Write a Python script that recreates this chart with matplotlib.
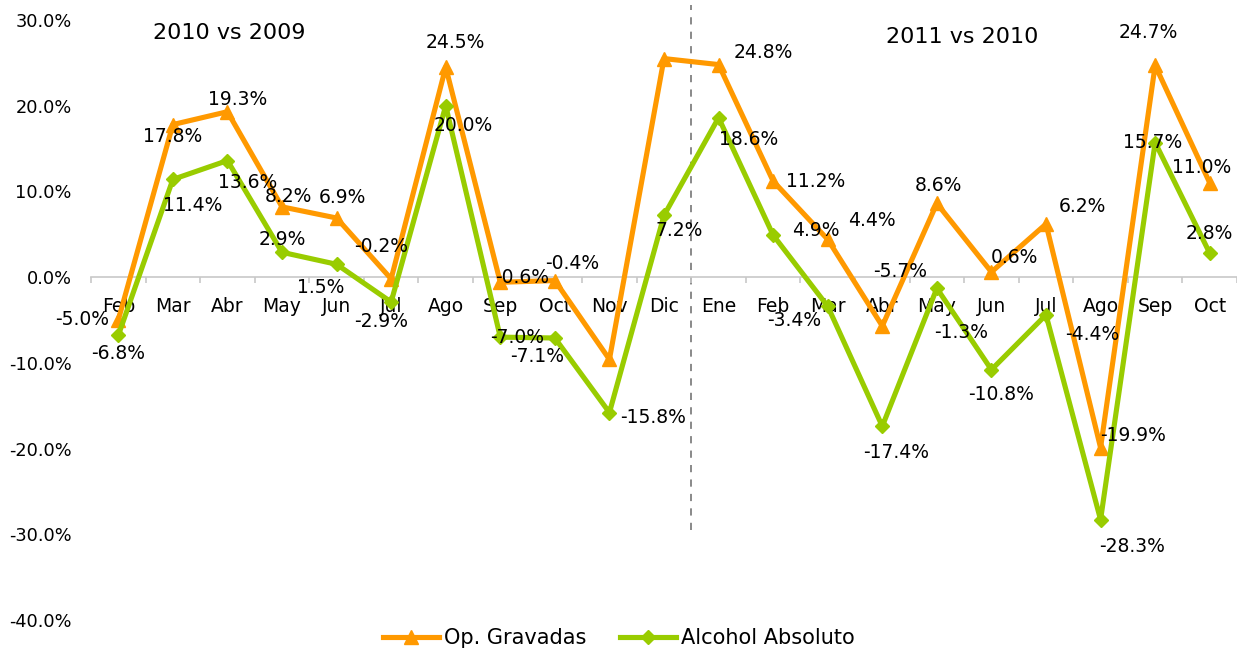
import numpy as np
import matplotlib.pyplot as plt
from matplotlib.ticker import FuncFormatter

# datos (variacion % interanual)
meses = ['Feb', 'Mar', 'Abr', 'May', 'Jun', 'Jul', 'Ago', 'Sep', 'Oct', 'Nov', 'Dic',
         'Ene', 'Feb', 'Mar', 'Abr', 'May', 'Jun', 'Jul', 'Ago', 'Sep', 'Oct']
op_gravadas = [-5.0, 17.8, 19.3, 8.2, 6.9, -0.2, 24.5, -0.6, -0.4, -9.6, 25.5,
               24.8, 11.2, 4.4, -5.7, 8.6, 0.6, 6.2, -19.9, 24.7, 11.0]
alcohol_abs = [-6.8, 11.4, 13.6, 2.9, 1.5, -2.9, 20.0, -7.0, -7.1, -15.8, 7.2,
               18.6, 4.9, -3.4, -17.4, -1.3, -10.8, -4.4, -28.3, 15.7, 2.8]
# Nov y Dic 2010 de Op. Gravadas no llevan etiqueta
sin_etiqueta_op = [9, 10]
periodos = ['2010 vs 2009', '2011 vs 2010']

# desplazamiento de etiquetas (pixeles, y hacia abajo)
off_op = [(-36, 0), (0, 12), (10, -12), (6, -10), (6, -20), (-10, -32), (10, -25),
          (22, -5), (17, -17), (0, 0), (0, 0), (45, -12), (42, 0), (44, -19),
          (18, -54), (2, -18), (23, -14), (36, -17), (32, -12), (-7, -33), (-8, -15)]
off_al = [(0, 18), (20, 26), (20, 22), (0, -13), (-16, 23), (-10, 20), (18, 20),
          (17, 0), (-18, 19), (44, 5), (15, 15), (30, 22), (43, -5), (-34, 14),
          (14, 26), (24, 44), (10, 25), (46, 20), (31, 27), (-3, 0), (0, -20)]

naranja = '#FF9900'
verde = '#99CC00'

fig = plt.figure(figsize=(12.37, 6.52), dpi=100)
ax = fig.add_axes([91/1237, 1-620/652, 1-91/1237, 600/652])

x = np.arange(len(meses))
l1, = ax.plot(x, op_gravadas, color=naranja, lw=3.7, marker='^', ms=10.5, zorder=3,
              label='Op. Gravadas')
l2, = ax.plot(x, alcohol_abs, color=verde, lw=3.7, marker='D', ms=7.5, zorder=3,
              label='Alcohol Absoluto')

for i, v in enumerate(op_gravadas):
    if i in sin_etiqueta_op:
        continue
    dx, dy = off_op[i]
    ax.annotate(f'{v:.1f}%', (i, v), xytext=(dx, -dy), textcoords='offset pixels',
                ha='center', va='center', fontsize=13.5, zorder=5)
for i, v in enumerate(alcohol_abs):
    dx, dy = off_al[i]
    ax.annotate(f'{v:.1f}%', (i, v), xytext=(dx, -dy), textcoords='offset pixels',
                ha='center', va='center', fontsize=13.5, zorder=5)

ax.set_xlim(-0.5, len(meses) - 0.5)
ax.set_ylim(-40, 30)
ax.set_yticks(np.arange(-40, 31, 10))
ax.yaxis.set_major_formatter(FuncFormatter(lambda v, p: f'{v:.1f}%'))
ax.tick_params(axis='y', length=0, pad=14, labelsize=12.8)

for s in ['top', 'right', 'left']:
    ax.spines[s].set_visible(False)
ax.spines['bottom'].set_position(('data', 0))
ax.spines['bottom'].set_color('#c8c8c8')
ax.spines['bottom'].set_linewidth(1.2)
ax.set_xticks(x)
ax.set_xticklabels(meses)
ax.set_xticks(np.arange(-0.5, len(meses), 1), minor=True)
ax.tick_params(axis='x', which='major', length=0, pad=14, labelsize=13.5)
ax.tick_params(axis='x', which='minor', length=4.5, color='#c8c8c8', width=1.2)

# separacion entre periodos
ax.axvline(10.5, ymin=(-29.5 + 40) / 70, ymax=(31.8 + 40) / 70, color='#808080',
           lw=1.3, ls=(0, (4, 4)), clip_on=False, zorder=1)

ax.text(229/1237, 1-33/652, periodos[0], transform=fig.transFigure, ha='center',
        va='center', fontsize=16)
ax.text(962/1237, 1-37/652, periodos[1], transform=fig.transFigure, ha='center',
        va='center', fontsize=16)

fig.legend(handles=[l1, l2], loc='center', bbox_to_anchor=(619/1237, 14/652), ncol=2,
           frameon=False, fontsize=15, handlelength=2.7, handletextpad=0.25,
           columnspacing=1.6)

fig.savefig('out.png', dpi=100)
